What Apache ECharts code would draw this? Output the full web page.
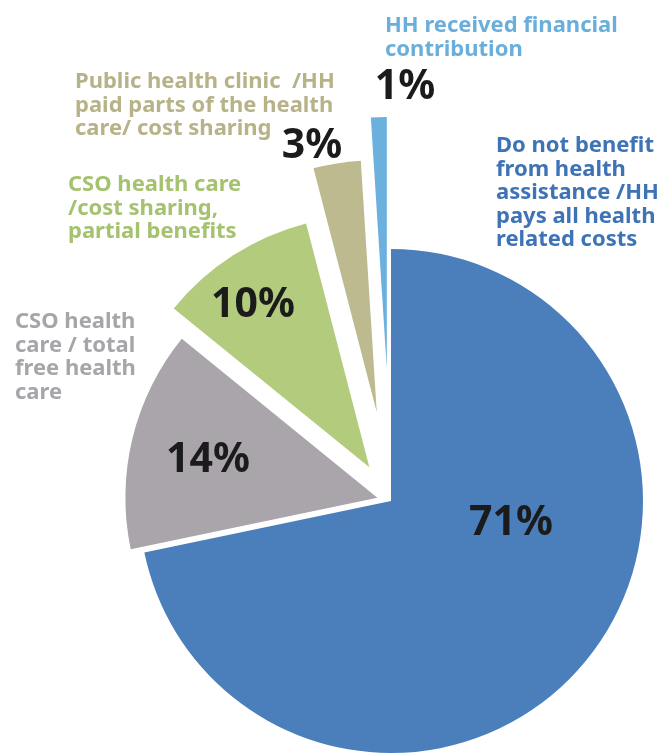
<!DOCTYPE html>
<html>
<head>
<meta charset="utf-8">
<script src="https://cdn.jsdelivr.net/npm/echarts@6/dist/echarts.min.js"></script>
<style>
html,body{margin:0;padding:0;background:#fff;}
#chart{width:671px;height:756px;}
</style>
</head>
<body>
<div id="chart"></div>
<script>
// ---- data ----
const categories = [
  'Do not benefit\nfrom health\nassistance /HH\npays all health\nrelated costs',
  'CSO health\ncare / total\nfree health\ncare',
  'CSO health care\n/cost sharing,\npartial benefits',
  'Public health clinic  /HH\npaid parts of the health\ncare/ cost sharing',
  'HH received financial\ncontribution'
];
const values = [71, 14, 10, 3, 1];

// ---- styling / layout ----
const colors = ['#4a7fbc', '#a9a5ab', '#b2cb7c', '#bdba8f', '#6cb0de'];
const labelColors = ['#3e73b6', '#a7a4aa', '#a5c26f', '#b7b288', '#6aaedb'];
const explode = [0, 14, 40, 90, 132];
const pctPos = [[511, 523], [208, 460], [253, 305], [312, 146], [405, 87]];
const namePos = [[496, 134], [15, 310], [68, 173], [75, 70], [385, 14]];
const cx = 391, cy = 501, R = 252;

const total = values.reduce((a, b) => a + b, 0);
const chart = echarts.init(document.getElementById('chart'), null, {renderer: 'canvas'});

const series = values.map((v, i) => {
  const before = values.slice(0, i).reduce((a, b) => a + b, 0);
  const mid = (before + v / 2) / total * 2 * Math.PI;
  const dx = Math.sin(mid) * explode[i];
  const dy = -Math.cos(mid) * explode[i];
  return {
    type: 'pie',
    center: [cx + dx, cy + dy],
    radius: R,
    startAngle: 90,
    clockwise: true,
    silent: true,
    animation: false,
    z: 2 + i,
    label: {
      position: 'inside',
      formatter: '{c}%',
      color: '#1b1b1b',
      fontFamily: 'Noto Sans',
      fontWeight: 'bold',
      fontSize: 41
    },
    labelLine: {show: false},
    labelLayout: function () {
      return {x: pctPos[i][0], y: pctPos[i][1], align: 'center', verticalAlign: 'middle'};
    },
    data: values.map((vv, j) => ({
      name: categories[j],
      value: vv,
      itemStyle: {color: j === i ? colors[i] : 'rgba(0,0,0,0)'},
      label: {show: j === i}
    }))
  };
});

const graphics = categories.map((c, i) => ({
  type: 'text',
  left: namePos[i][0],
  top: namePos[i][1],
  silent: true,
  z: 100,
  style: {
    text: c,
    fill: labelColors[i],
    font: 'bold 22px "Noto Sans"',
    lineHeight: 23.5
  }
}));

chart.setOption({
  backgroundColor: '#ffffff',
  animation: false,
  series: series,
  graphic: graphics
});
</script>
</body>
</html>
